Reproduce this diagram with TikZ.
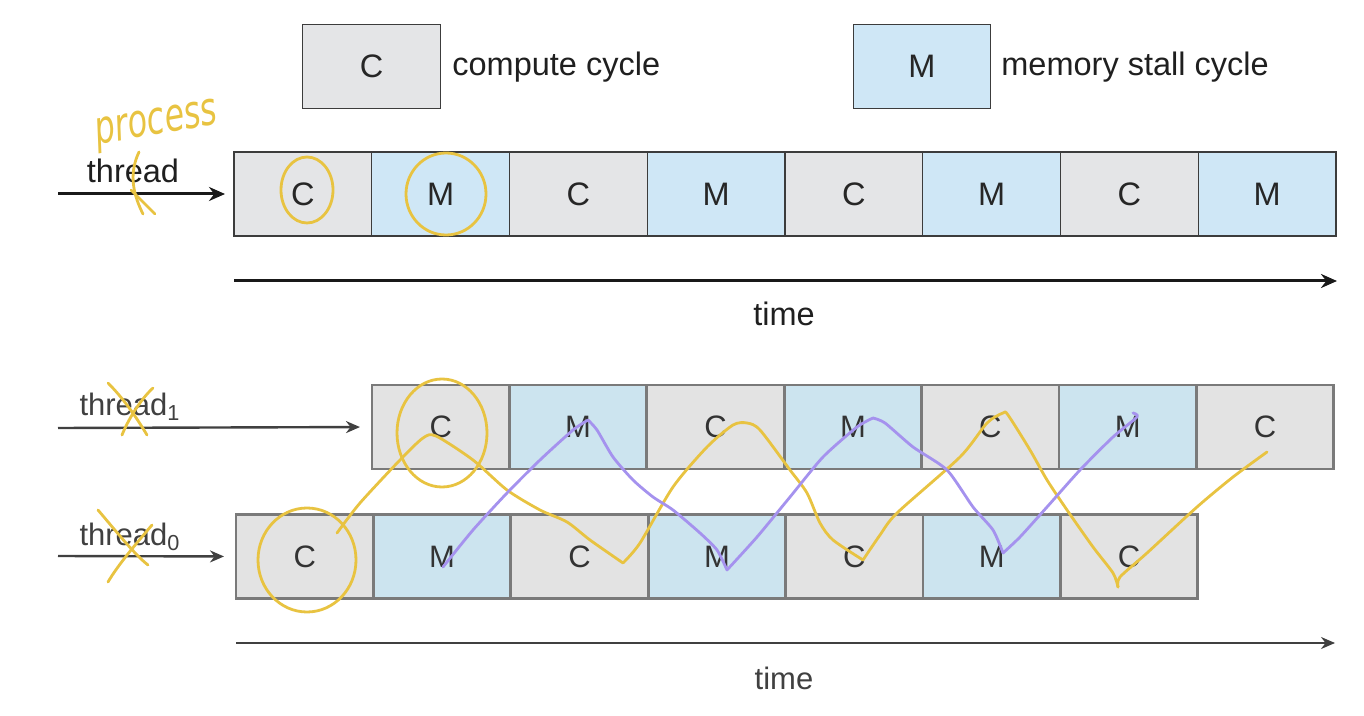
\documentclass[tikz,border=0pt]{standalone}
\usepackage{fontspec}
\setmainfont{Liberation Sans}
\newfontfamily\hand{DejaVu Sans}
\usetikzlibrary{arrows.meta}
\definecolor{cfill}{HTML}{E4E5E7}
\definecolor{mfill}{HTML}{CFE7F6}
\definecolor{bcfill}{HTML}{E3E3E3}
\definecolor{bmfill}{HTML}{CCE4EF}
\definecolor{cellborder}{HTML}{3C3C3C}
\definecolor{bborder}{HTML}{7A7A7A}
\definecolor{hy}{HTML}{E8C341}
\definecolor{hp}{HTML}{A592EE}
\newcommand{\lab}{\fontsize{16.25pt}{19pt}\selectfont}
\newcommand{\blab}{\fontsize{15.5pt}{18pt}\selectfont}
\tikzset{
  cell/.style={draw=cellborder, line width=0.6pt, minimum width=68.875pt, minimum height=42pt, inner sep=0pt, outer sep=0pt, font=\lab, text=black!85},
  cc/.style={cell, fill=cfill},
  mm/.style={cell, fill=mfill},
  bcell/.style={draw=bborder, line width=1.4pt, minimum width=68.7pt, minimum height=42pt, inner sep=0pt, outer sep=0pt, font=\blab, text=black!80},
  bc/.style={bcell, fill=bcfill},
  bm/.style={bcell, fill=bmfill},
  txt/.style={inner sep=0pt, font=\lab, text=black!88},
  btxt/.style={inner sep=0pt, font=\blab, text=black!75},
  arr/.style={draw=black!90, line width=1.5pt, -{Stealth[length=8pt,width=7pt]}},
  barr/.style={draw=black!75, line width=1.2pt, -{Stealth[length=7pt,width=6pt]}},
  ylw/.style={draw=hy, line width=1.4pt, line cap=round, line join=round},
  prp/.style={draw=hp, line width=1.4pt, line cap=round, line join=round},
}
\begin{document}
\begin{tikzpicture}[x=0.5pt,y=-0.5pt]
\useasboundingbox (0,0) rectangle (1364,716);
% legend
\node[cc] (legc) at (371.5,66.5) {C};
\node[txt, anchor=west] (legct) at (452,67) {compute cycle};
\node[mm] (legm) at (922,66.5) {M};
\node[txt, anchor=west] (legmt) at (1001,67) {memory stall cycle};
% top row
\foreach \i/\s/\t in {1/cc/C,2/mm/M,3/cc/C,4/mm/M,5/cc/C,6/mm/M,7/cc/C,8/mm/M}{
  \node[\s] (a\i) at ({234+137.75*(\i-0.5)},194) {\t};
}
\coordinate (ts) at (58,194);
\node[txt] (thr) at (133,171) {thread};
\draw[arr, shorten >=4.5pt] (ts) -- (a1.west);
\coordinate (t1s) at (234,281);
\coordinate (t1e) at (1337,281);
\draw[arr] (t1s) -- (t1e);
\node[txt] (time1) at (784,314) {time};
% bottom rows
\foreach \i/\s/\t in {1/bc/C,2/bm/M,3/bc/C,4/bm/M,5/bc/C,6/bm/M,7/bc/C}{
  \node[\s] (b\i) at ({372+137.4*(\i-0.5)},427) {\t};
}
\foreach \i/\s/\t in {1/bc/C,2/bm/M,3/bc/C,4/bm/M,5/bc/C,6/bm/M,7/bc/C}{
  \node[\s] (c\i) at ({236+137.4*(\i-0.5)},556.5) {\t};
}
\coordinate (th1s) at (58,428);
\coordinate (th0s) at (58,556);
\node[btxt] (thr1) at (130,407) {thread\textsubscript{1}};
\node[btxt] (thr0) at (130,537) {thread\textsubscript{0}};
\draw[barr, shorten >=6pt] (th1s) -- (b1.west);
\draw[barr, shorten >=6pt] (th0s) -- (c1.west);
\coordinate (t2s) at (236,643);
\coordinate (t2e) at (1335,643);
\draw[barr, line width=1pt] (t2s) -- (t2e);
\node[btxt] (time2) at (784,678) {time};
% handwritten annotations
\node[text=hy, inner sep=0pt, rotate=10] (proc) at (157,126) {\hand\itshape\fontsize{20pt}{24pt}\selectfont\scalebox{0.8}[1.15]{process}};
\draw[ylw] (139,152) .. controls (128,175) and (134,196) .. (143,214);
\draw[ylw] (131,190) -- (155,214);
\draw[ylw] (108,383) .. controls (125,400) and (138,420) .. (147,435);
\draw[ylw] (153,388) .. controls (140,400) and (128,420) .. (122,435);
\draw[ylw] (98,510) .. controls (115,530) and (135,555) .. (148,565);
\draw[ylw] (152,525) .. controls (135,545) and (118,565) .. (108,582);
\draw[ylw] (307,190) ellipse [x radius=26, y radius=33];
\draw[ylw] (446,194) ellipse [x radius=40, y radius=41];
\draw[ylw] (442,433) ellipse [x radius=45, y radius=54];
\draw[ylw] (307,560) ellipse [x radius=49, y radius=52];
\draw[ylw] plot[smooth, tension=0.45] coordinates {
 (337,533) (360,503) (400,460) (423,438) (436,436) (473,460) (507,490) (540,510) (567,522) (590,540) (623,563)};
\draw[ylw] plot[smooth, tension=0.45] coordinates {
 (623,563) (640,543) (673,487) (707,447) (733,425) (747,423) (760,430) (790,470) (807,493) (820,523) (833,540) (863,560)};
\draw[ylw] plot[smooth, tension=0.45] coordinates {
 (863,560) (880,535) (897,513) (960,457) (987,423) (1003,413) (1008,415) (1030,450) (1047,480) (1067,510) (1093,547) (1113,573) (1118,587)};
\draw[ylw] plot[smooth, tension=0.45] coordinates {
 (1118,587) (1120,577) (1147,553) (1197,507) (1233,477) (1267,452)};
\draw[prp] plot[smooth, tension=0.4] coordinates {
 (443,567) (473,530) (507,493) (540,460) (573,430) (588,420)};
\draw[prp] plot[smooth, tension=0.4] coordinates {
 (588,420) (597,430) (613,457) (633,480) (653,497) (673,510) (700,533) (717,550) (727,570)};
\draw[prp] plot[smooth, tension=0.4] coordinates {
 (727,570) (757,537) (790,497) (823,457) (857,427) (873,418)};
\draw[prp] plot[smooth, tension=0.4] coordinates {
 (873,418) (885,423) (913,447) (947,470) (973,507) (993,530) (1003,553)};
\draw[prp] plot[smooth, tension=0.4] coordinates {
 (1003,553) (1020,537) (1047,507) (1080,470) (1113,437) (1137,417) (1133,413)};
\end{tikzpicture}
\end{document}
